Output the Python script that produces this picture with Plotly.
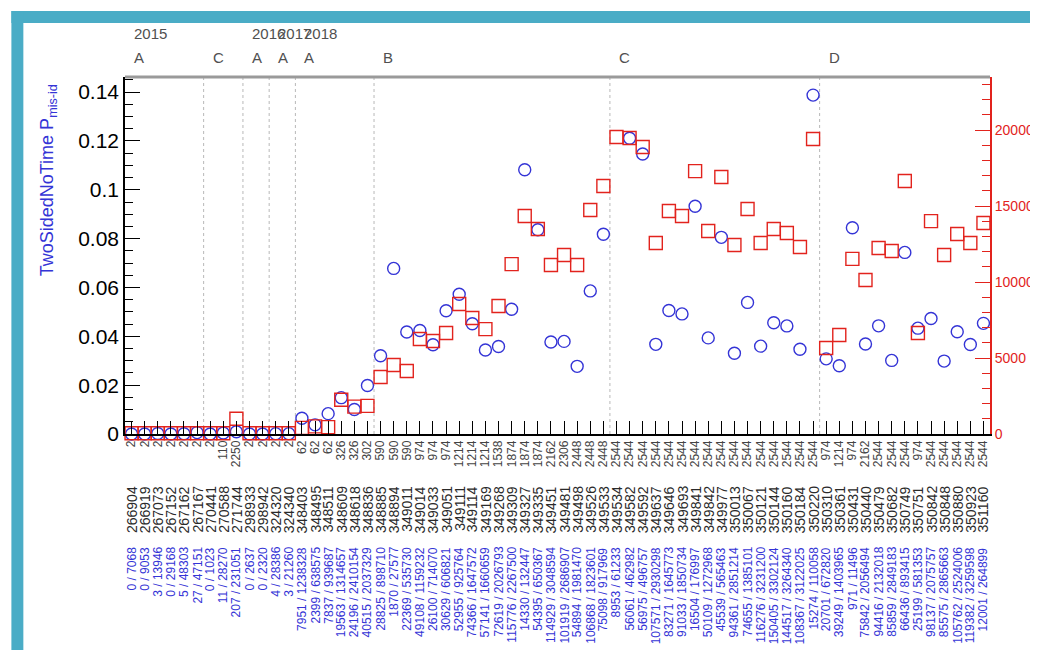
import plotly.graph_objects as go

# ---------------- data ----------------
cluster_labels = ["2", "2", "2", "2", "2", "2", "2", "110", "2250", "2", "2", "2", "2",
                  "62", "62", "62", "326", "326", "302",
                  "590", "590", "590", "974", "974", "974", "1214", "1214", "1214", "1538",
                  "1874", "1874", "1874", "2162", "2306", "2448", "2448", "2448",
                  "2544", "2544", "2544", "2544", "2544", "2544", "2544", "2544",
                  "2544", "2544", "2544", "2544", "2544", "2544", "2544", "2544",
                  "974", "1214", "974", "2162", "2544", "2544", "2544", "974",
                  "2544", "2544", "2544", "2544", "2544"]

run_numbers = ["266904", "266919", "267073", "267152", "267162", "267167", "270441", "270588",
               "271744", "298933", "298942", "324320", "324340", "348403", "348495", "348511",
               "348609", "348618", "348836", "348885", "348894", "349011", "349014", "349033",
               "349051", "349111", "349114", "349169", "349268", "349309", "349327", "349335",
               "349451", "349481", "349498", "349526", "349533", "349534", "349582", "349592",
               "349637", "349646", "349693", "349841", "349842", "349977", "350013", "350067",
               "350121", "350144", "350160", "350184", "350220", "350310", "350361", "350431",
               "350440", "350479", "350682", "350749", "350751", "350842", "350848", "350880",
               "350923", "351160"]

misid_counts = [0, 0, 3, 0, 5, 27, 0, 11, 207, 0, 0, 4, 3,
                7951, 2399, 7837, 19563, 24196, 40515, 28825, 1870, 22369, 49108, 26100,
                30629, 52955, 74366, 57141, 72619, 115776, 14330, 54395, 114929, 101919,
                54894, 106868, 75098, 8953, 56061, 56975, 107571, 83271, 91033, 16504,
                50109, 45539, 94361, 74655, 116276, 150405, 144517, 108367, 15274, 20701,
                39249, 971, 75842, 94416, 85859, 66436, 25199, 98137, 85575, 105762,
                119382, 12001]

total_counts = [7068, 9053, 13946, 29168, 48303, 47151, 1023, 28270, 231051, 2637, 2320, 28386,
                21260, 1238328, 638575, 939687, 1314657, 2410154, 2037329, 898710, 27577,
                535730, 1159232, 714070, 606821, 925764, 1647572, 1660659, 2026793, 2267500,
                132447, 650367, 3048594, 2686907, 1981470, 1823601, 917969, 61233, 462982,
                496757, 2930298, 1645773, 1850734, 176997, 1272968, 565463, 2851214, 1385101,
                3231200, 3302124, 3264340, 3122025, 110058, 672820, 1403965, 11496, 2056494,
                2132018, 2849183, 893415, 581353, 2075757, 2865663, 2524006, 3259598, 264899]

right_values = [50, 50, 50, 50, 50, 50, 50, 50, 1000, 50, 50, 50, 50,
                400, 500, 450, 2250, 1800, 1850, 3750, 4540, 4150, 6250, 6120,
                6650, 8550, 7630, 6900, 8420, 11180, 14340, 13490, 11120, 11780,
                11120, 14740, 16320, 19540, 19480, 18880, 12570, 14670, 14340, 17300,
                13360, 16910, 12440, 14800, 12570, 13490, 13230, 12300, 19410, 5660,
                6510, 11520, 10130, 12240, 12040, 16650, 6650, 14010, 11780, 13160,
                12570, 13880]

period_start = [0, 6, 9, 11, 13, 19, 37, 53]
period_labels = ["A", "C", "A", "A", "A", "B", "C", "D"]
year_labels = ["2015", "", "2016", "2017", "2018", "", "", ""]

# ---------------- derived ----------------
idx = list(range(len(run_numbers)))
misid_rate = [n / d for n, d in zip(misid_counts, total_counts)]
frac_text = [f"{n} / {d}" for n, d in zip(misid_counts, total_counts)]

W, H = 1038, 650
OFF = 8  # page body margin offset of the rendered figure
# plot area in screen pixels
L, R, T, B = 125, 993, 77, 434


def px(x):
    return (x - L) / (R - L)


def py(y):
    return (B - y) / (B - T)


FONT = "Liberation Sans, Arial, sans-serif"
BLUE = "#3434d6"
RED = "#e2231d"
TEAL = "#4aacc6"

fig = go.Figure()

fig.add_trace(go.Scatter(
    x=idx, y=misid_rate, mode="markers", cliponaxis=False,
    marker=dict(symbol="circle-open", size=12, color=BLUE, line=dict(width=1.4, color=BLUE)),
    showlegend=False))

fig.add_trace(go.Scatter(
    x=idx, y=right_values, mode="markers", yaxis="y2", cliponaxis=False,
    marker=dict(symbol="square-open", size=13, color=RED, line=dict(width=1.4, color=RED)),
    showlegend=False))

XMAX = W + OFF
YMAX = H + OFF
shapes = [
    # teal frame: top band and left band only
    dict(type="rect", xref="paper", yref="paper", x0=px(11), x1=px(XMAX), y0=py(11), y1=py(23),
         fillcolor=TEAL, line=dict(width=0), layer="below"),
    dict(type="rect", xref="paper", yref="paper", x0=px(11), x1=px(23), y0=py(11), y1=py(YMAX),
         fillcolor=TEAL, line=dict(width=0), layer="below"),
    dict(type="line", xref="paper", yref="paper", x0=0, x1=1, y0=1, y1=1,
         line=dict(color="#9a9a9a", width=3)),
]
for k in period_start:
    if k == 0:
        continue
    shapes.append(dict(type="line", xref="x", yref="paper", x0=k - 0.5, x1=k - 0.5, y0=0, y1=1,
                       line=dict(color="#b8b8b8", width=1, dash="dot"), layer="below"))

annotations = []
for k, p, yr in zip(period_start, period_labels, year_labels):
    annotations.append(dict(x=k - 0.5, xref="x", xshift=7, y=py(58), yref="paper",
                            text=p, showarrow=False, xanchor="left", yanchor="middle",
                            font=dict(family=FONT, size=15, color="#505050")))
    if yr:
        annotations.append(dict(x=k - 0.5, xref="x", xshift=7, y=py(33), yref="paper",
                                text=yr, showarrow=False, xanchor="left", yanchor="middle",
                                font=dict(family=FONT, size=15, color="#505050")))

for i in idx:
    annotations.append(dict(x=i, xref="x", y=py(484), yref="paper", text=run_numbers[i],
                            showarrow=False, textangle=-90, xanchor="center", yanchor="top",
                            font=dict(family=FONT, size=14, color="#2a2a2a")))
    annotations.append(dict(x=i, xref="x", y=py(545), yref="paper", text=frac_text[i],
                            showarrow=False, textangle=-90, xanchor="center", yanchor="top",
                            font=dict(family=FONT, size=12, color=BLUE)))

annotations.append(dict(x=px(48), y=py(180), xref="paper", yref="paper",
                        text="TwoSidedNoTime P<sub>mis-id</sub>", showarrow=False,
                        textangle=-90, xanchor="center", yanchor="middle",
                        font=dict(family=FONT, size=18, color=BLUE)))

fig.update_layout(
    width=W, height=H, autosize=False,
    margin=dict(l=L - OFF, r=W - (R - OFF), t=T - OFF, b=H - (B - OFF), pad=0),
    paper_bgcolor="white", plot_bgcolor="rgba(0,0,0,0)",
    shapes=shapes, annotations=annotations,
    xaxis=dict(range=[-0.5, len(idx) - 0.5], tickmode="array", tickvals=idx,
               ticktext=cluster_labels, tickangle=-90,
               tickfont=dict(family=FONT, size=12, color="#444"),
               ticks="inside", ticklen=13, tickcolor="black", tickwidth=1,
               showline=True, linecolor="black", linewidth=1.5,
               showgrid=False, zeroline=False),
    yaxis=dict(range=[0, 0.1462], tick0=0, dtick=0.02, ticks="inside", ticklen=15,
               tickcolor="black", tickwidth=1,
               minor=dict(dtick=0.005, ticks="inside", ticklen=8, tickcolor="black", showgrid=False),
               tickfont=dict(family=FONT, size=21, color="black"),
               showline=True, linecolor="black", linewidth=1.5,
               showgrid=False, zeroline=False),
    yaxis2=dict(range=[0, 23490], overlaying="y", side="right", tick0=0, dtick=5000,
                tickformat="d", ticks="inside", ticklen=15, tickcolor=RED, tickwidth=1,
                minor=dict(dtick=1000, ticks="inside", ticklen=8, tickcolor=RED, showgrid=False),
                tickfont=dict(family=FONT, size=14, color=RED),
                showline=True, linecolor=RED, linewidth=2,
                showgrid=False, zeroline=False),
)

fig.write_html("out.html", config={"displayModeBar": False})
